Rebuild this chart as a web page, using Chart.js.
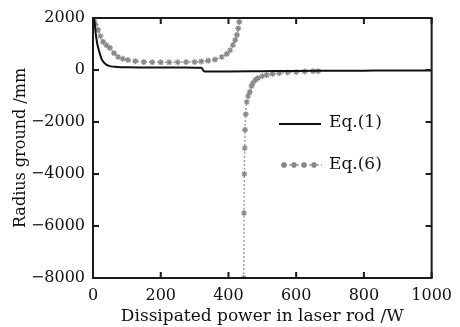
<!DOCTYPE html>
<html>
<head>
<meta charset="utf-8">
<script src="https://cdn.jsdelivr.net/npm/chart.js@4/dist/chart.umd.min.js"></script>
<style>
  body { margin: 0; background: #fff; }
  #wrap { width: 460px; height: 327px; }
</style>
</head>
<body>
<div id="wrap"><canvas id="myChart"></canvas></div>
<script>
// values
var eq1X = [2, 5, 8, 12, 16, 20, 25, 30, 40, 50, 70, 100, 150, 200, 250, 300, 320, 328, 335, 400, 500, 600, 700, 800, 900, 1000];
var eq1Y = [2000, 1800, 1400, 1050, 820, 640, 440, 320, 200, 150, 120, 105, 100, 95, 95, 90, 85, -50, -60, -55, -45, -35, -30, -25, -20, -20];

// Eq.(6) has a pole near 440 W, null splits the two branches
var eq6X = [3, 8, 15, 22, 30, 40, 50, 62, 74, 88, 103, 125, 150, 175, 200, 225, 250, 275, 300, 320, 340, 360, 380, 395, 405, 413, 420, 425, 429, 432,
            440,
            445, 446, 447, 448, 449, 451, 454, 458, 463, 468, 472, 480, 487, 500, 513, 530, 550, 575, 600, 625, 650, 665];
var eq6Y = [1900, 1750, 1540, 1300, 1080, 950, 850, 650, 500, 430, 385, 340, 310, 300, 295, 295, 300, 305, 310, 330, 360, 400, 500, 620, 760, 960, 1150, 1350, 1600, 1850,
            null,
            -8000, -5500, -4000, -3000, -2300, -1700, -1230, -1000, -850, -620, -500, -380, -310, -240, -190, -150, -120, -95, -75, -60, -50, -45];

var xTicks = [0, 200, 400, 600, 800, 1000];
var yTicks = [-8000, -6000, -4000, -2000, 0, 2000];
var seriesNames = ['Eq.(1)', 'Eq.(6)'];

function toPoints(xs, ys) {
    var pts = [];
    for (let i = 0; i < xs.length; i++) {
        pts.push({ x: xs[i], y: ys[i] });
    }
    return pts;
}

function fmt(v) {
    return v < 0 ? '\u2212' + Math.abs(v) : String(v);
}

var serif = "'DejaVu Serif', 'Liberation Serif', serif";

// frame with inward ticks on all four sides, plus the legend inside the plot
var framePlugin = {
    id: 'frame',
    afterDraw(chart) {
        var ctx = chart.ctx;
        var a = chart.chartArea;
        var xs = chart.scales.x;
        var ys = chart.scales.y;
        ctx.save();
        ctx.strokeStyle = '#1a1a1a';
        ctx.lineWidth = 2;
        ctx.strokeRect(a.left, a.top, a.right - a.left, a.bottom - a.top);
        var len = 6;
        ctx.beginPath();
        xTicks.forEach(function (t) {
            var px = xs.getPixelForValue(t);
            ctx.moveTo(px, a.bottom); ctx.lineTo(px, a.bottom - len);
            ctx.moveTo(px, a.top); ctx.lineTo(px, a.top + len);
        });
        yTicks.forEach(function (t) {
            var py = ys.getPixelForValue(t);
            ctx.moveTo(a.left, py); ctx.lineTo(a.left + len, py);
            ctx.moveTo(a.right, py); ctx.lineTo(a.right - len, py);
        });
        ctx.stroke();

        // legend
        ctx.font = '17px ' + serif;
        ctx.fillStyle = '#111';
        ctx.textBaseline = 'middle';
        ctx.beginPath();
        ctx.strokeStyle = '#111';
        ctx.lineWidth = 2;
        ctx.moveTo(279, 124); ctx.lineTo(321, 124);
        ctx.stroke();
        ctx.fillText(seriesNames[0], 329, 123);

        ctx.beginPath();
        ctx.strokeStyle = '#999';
        ctx.setLineDash([2, 2]);
        ctx.lineWidth = 1.5;
        ctx.moveTo(281, 165); ctx.lineTo(322, 165);
        ctx.stroke();
        ctx.setLineDash([]);
        ctx.strokeStyle = '#888';
        [284, 294, 304, 314].forEach(function (sx) {
            Chart.helpers.drawPoint(ctx, { pointStyle: 'star', radius: 3, borderWidth: 1.2 }, sx, 165);
        });
        ctx.fillStyle = '#111';
        ctx.fillText(seriesNames[1], 329, 165);
        ctx.restore();
    }
};

new Chart(document.getElementById('myChart'), {
    type: 'line',
    data: {
        datasets: [
            {
                label: seriesNames[0],
                data: toPoints(eq1X, eq1Y),
                borderColor: '#111',
                borderWidth: 2,
                pointRadius: 0,
                cubicInterpolationMode: 'monotone'
            },
            {
                label: seriesNames[1],
                data: toPoints(eq6X, eq6Y),
                borderColor: '#a0a0a0',
                borderWidth: 1.5,
                borderDash: [2, 2],
                pointStyle: 'star',
                pointRadius: 3,
                pointBorderColor: '#888',
                pointBorderWidth: 1.2,
                spanGaps: false,
                cubicInterpolationMode: 'monotone'
            }
        ]
    },
    options: {
        responsive: true,
        maintainAspectRatio: false,
        animation: false,
        layout: { padding: { top: 18, right: 28, left: 0, bottom: 0 } },
        plugins: {
            legend: { display: false },
            tooltip: { enabled: false }
        },
        scales: {
            x: {
                type: 'linear',
                min: 0,
                max: 1000,
                afterBuildTicks: function (scale) {
                    scale.ticks = xTicks.map(function (v) { return { value: v }; });
                },
                afterFit: function (scale) { scale.height = 49; },
                grid: { display: false, drawTicks: false },
                border: { display: false },
                ticks: {
                    color: '#111',
                    padding: 8,
                    maxRotation: 0,
                    font: { family: serif, size: 16 },
                    callback: function (v) { return fmt(v); }
                },
                title: {
                    display: true,
                    text: 'Dissipated power in laser rod /W',
                    color: '#111',
                    padding: { top: 0, bottom: 0 },
                    font: { family: serif, size: 17 }
                }
            },
            y: {
                type: 'linear',
                min: -8000,
                max: 2000,
                afterBuildTicks: function (scale) {
                    scale.ticks = yTicks.map(function (v) { return { value: v }; });
                },
                afterFit: function (scale) { scale.width = 93; },
                grid: { display: false, drawTicks: false },
                border: { display: false },
                ticks: {
                    color: '#111',
                    padding: 8,
                    font: { family: serif, size: 16 },
                    callback: function (v) { return fmt(v); }
                },
                title: {
                    display: true,
                    text: 'Radius ground /mm',
                    color: '#111',
                    padding: { top: 11, bottom: 0 },
                    font: { family: serif, size: 16 }
                }
            }
        }
    },
    plugins: [framePlugin]
});
</script>
</body>
</html>
